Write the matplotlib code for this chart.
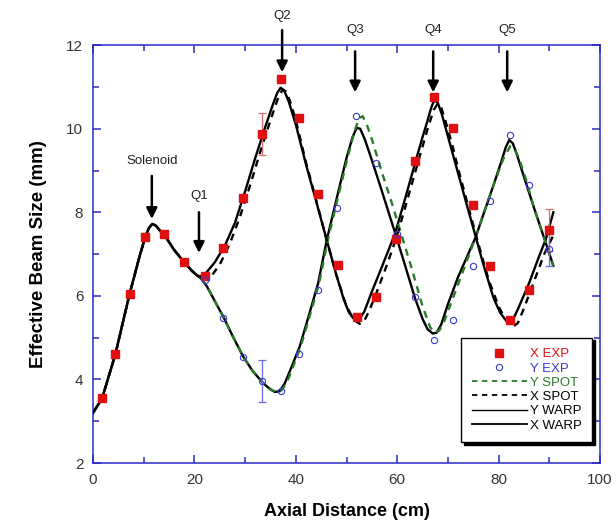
import matplotlib
matplotlib.use("Agg")
import matplotlib.pyplot as plt
from matplotlib.ticker import MultipleLocator
from matplotlib.lines import Line2D

plt.rcParams['font.family'] = ['Liberation Sans', 'DejaVu Sans']

# ---------------- data ----------------
# experimental points
x_exp_pos = [1.8, 4.3, 7.2, 10.3, 14.0, 18.0, 22.0, 25.7, 29.6, 33.3, 37.0, 40.7, 44.4,
             48.4, 52.0, 55.8, 59.8, 63.5, 67.2, 71.0, 74.9, 78.4, 82.2, 86.0, 89.9]
x_exp_val = [3.55, 4.60, 6.04, 7.40, 7.48, 6.81, 6.47, 7.14, 8.35, 9.88, 11.18, 10.26, 8.44,
             6.73, 5.50, 5.98, 7.36, 9.23, 10.76, 10.01, 8.18, 6.72, 5.43, 6.14, 7.57]
y_exp_pos = [22.0, 25.7, 29.6, 33.3, 37.0, 40.7, 44.4, 48.1, 51.9, 55.8, 59.9, 63.6, 67.2,
             71.0, 74.9, 78.4, 82.2, 86.0, 89.9]
y_exp_val = [6.38, 5.47, 4.54, 3.96, 3.72, 4.61, 6.14, 8.11, 10.30, 9.17, 7.48, 5.97, 4.95,
             5.42, 6.71, 8.28, 9.86, 8.66, 7.11]
# error bars: (position, value, half-width)
x_err_pos = [33.3, 89.9]
x_err_val = [9.88, 7.57]
x_err_size = [0.5, 0.5]
y_err_pos = [33.3, 89.9]
y_err_val = [3.96, 7.11]
y_err_size = [0.5, 0.4]

# common leading segment (solenoid region, identical for all simulations)
lead_x = [0.0, 1.8, 4.4, 7.2, 9.3, 10.3, 11.0, 11.7, 12.4, 13.3, 14.5, 16.0, 18.0, 19.5, 20.6]
lead_y = [3.2, 3.55, 4.6, 6.04, 7.0, 7.4, 7.62, 7.72, 7.68, 7.55, 7.38, 7.1, 6.8, 6.6, 6.48]

xwarp_x = [21.3, 22.3, 24.0, 26.0, 28.0, 30.0, 32.0, 34.0, 35.4, 36.3, 37.0, 37.7, 38.6, 40.0,
           42.0, 44.0, 46.0, 48.0, 49.5, 50.5, 51.3, 52.0, 52.7, 53.5, 55.0, 57.0, 59.6, 61.5,
           63.7, 65.0, 66.0, 66.7, 67.3, 68.0, 68.8, 70.0, 72.0, 74.0, 75.5, 77.0, 79.0, 80.3,
           81.2, 82.1, 82.9, 83.8, 86.0, 88.0, 89.3, 90.8]
xwarp_y = [6.47, 6.55, 6.8, 7.2, 7.75, 8.5, 9.3, 10.05, 10.55, 10.85, 10.98, 10.92, 10.65, 10.1,
           9.15, 8.27, 7.38, 6.5, 5.9, 5.6, 5.47, 5.42, 5.47, 5.62, 6.1, 6.7, 7.5, 8.3,
           9.25, 9.8, 10.2, 10.5, 10.68, 10.62, 10.35, 9.82, 8.94, 8.06, 7.41, 6.75, 5.95, 5.6,
           5.45, 5.4, 5.45, 5.68, 6.3, 6.95, 7.35, 8.0]

ywarp_x = [21.3, 22.5, 24.0, 25.7, 27.5, 29.6, 31.5, 33.5, 35.0, 35.9, 36.8, 37.8, 39.0, 40.8,
           42.5, 44.4, 46.1, 48.0, 50.0, 51.2, 52.0, 52.7, 53.6, 55.0, 57.0, 59.6, 61.5, 63.5,
           65.0, 66.0, 67.0, 67.8, 68.7, 70.0, 72.0, 74.0, 75.5, 77.0, 79.0, 80.5, 81.4, 82.1,
           82.8, 83.7, 85.0, 87.0, 89.3, 90.8]
ywarp_y = [6.42, 6.22, 5.88, 5.5, 5.05, 4.55, 4.2, 3.92, 3.76, 3.7, 3.72, 3.9, 4.25, 4.8,
           5.5, 6.3, 7.33, 8.3, 9.3, 9.8, 10.02, 10.0, 9.75, 9.25, 8.5, 7.5, 6.75, 5.95,
           5.45, 5.2, 5.1, 5.12, 5.32, 5.8, 6.45, 7.0, 7.41, 7.95, 8.65, 9.2, 9.55, 9.73,
           9.65, 9.35, 8.85, 8.1, 7.27, 6.72]

xspot_x = [21.3, 22.3, 23.5, 25.0, 27.0, 29.0, 31.0, 33.0, 35.0, 36.4, 37.3, 38.0, 38.8, 40.0,
           42.0, 44.0, 46.0, 48.0, 50.0, 51.5, 52.6, 53.5, 54.5, 56.0, 58.0, 60.0, 62.0, 64.0,
           66.0, 67.2, 68.0, 68.7, 69.5, 71.0, 72.0, 74.0, 76.0, 78.0, 80.0, 81.5, 82.8, 83.8,
           85.0, 87.0, 89.0, 90.8]
xspot_y = [6.45, 6.4, 6.5, 6.75, 7.25, 7.9, 8.65, 9.45, 10.2, 10.7, 10.92, 10.9, 10.68, 10.2,
           9.2, 8.3, 7.38, 6.5, 5.75, 5.42, 5.33, 5.4, 5.65, 6.1, 6.75, 7.45, 8.3, 9.15,
           10.0, 10.45, 10.6, 10.5, 10.2, 9.55, 9.05, 8.15, 7.25, 6.4, 5.75, 5.4, 5.26, 5.35,
           5.7, 6.35, 7.0, 7.45]

yspot_x = [21.3, 22.5, 24.0, 25.7, 27.5, 29.6, 31.5, 33.5, 35.2, 36.3, 37.2, 38.2, 39.3, 41.0,
           42.7, 44.6, 46.3, 48.2, 50.2, 51.6, 52.5, 53.2, 54.0, 55.0, 57.0, 59.0, 61.0, 63.0,
           65.0, 66.5, 67.4, 68.3, 69.3, 71.0, 73.0, 75.0, 77.0, 79.0, 81.0, 82.3, 83.0, 84.0,
           85.5, 87.0, 89.3, 90.8]
yspot_y = [6.42, 6.22, 5.88, 5.5, 5.05, 4.55, 4.2, 3.92, 3.75, 3.7, 3.74, 3.92, 4.25, 4.8,
           5.5, 6.3, 7.33, 8.3, 9.3, 9.95, 10.25, 10.3, 10.1, 9.75, 8.95, 8.2, 7.4, 6.6,
           5.75, 5.25, 5.12, 5.17, 5.4, 5.95, 6.6, 7.25, 7.95, 8.65, 9.3, 9.58, 9.55, 9.3,
           8.75, 8.1, 7.27, 6.72]

# annotations: label, x, text y, arrow tail y, arrow head y
annotations = [
    ("Solenoid", 11.6, 9.23, 8.87, 7.84),
    ("Q1", 20.9, 8.39, 8.00, 7.03),
    ("Q2", 37.3, 12.69, 12.36, 11.35),
    ("Q3", 51.7, 12.36, 11.85, 10.87),
    ("Q4", 67.1, 12.36, 11.85, 10.87),
    ("Q5", 81.7, 12.36, 11.85, 10.87),
]

# ---------------- figure ----------------
fig = plt.figure(figsize=(6.16, 5.31), dpi=100)
ax = fig.add_axes([0.151, 0.128, 0.823, 0.787])

axis_blue = '#2a2ac8'
red = '#e01010'
blue = '#3a3ad0'
green = '#2a7a2a'

lw = 1.7
ax.plot(lead_x + ywarp_x, lead_y + ywarp_y, color='black', lw=lw, zorder=3)
ax.plot(lead_x + xwarp_x, lead_y + xwarp_y, color='black', lw=lw, zorder=3)
ax.plot(lead_x + yspot_x, lead_y + yspot_y, color=green, lw=lw, ls=(0, (3, 2.5)), zorder=4)
ax.plot(lead_x + xspot_x, lead_y + xspot_y, color='black', lw=lw, ls=(0, (3, 2.5)), zorder=4)

ax.errorbar(x_err_pos, x_err_val, yerr=x_err_size, fmt='none', ecolor='#e06a6a',
            elinewidth=0.9, capsize=3, capthick=0.9, zorder=5)
ax.errorbar(y_err_pos, y_err_val, yerr=y_err_size, fmt='none', ecolor='#6a6ad8',
            elinewidth=0.9, capsize=3, capthick=0.9, zorder=5)
ax.plot(x_exp_pos, x_exp_val, ls='none', marker='s', ms=5.5, mfc=red, mec=red, zorder=6)
ax.plot(y_exp_pos, y_exp_val, ls='none', marker='o', ms=4.5, mfc='none', mec=blue,
        mew=0.8, zorder=6)

for label, xa, ty, tail, head in annotations:
    ax.annotate('', xy=(xa, head), xytext=(xa, tail),
                arrowprops=dict(arrowstyle='-|>', color='black', lw=1.8,
                                mutation_scale=16, shrinkA=0, shrinkB=0),
                annotation_clip=False, zorder=7)
    ax.text(xa, ty, label, ha='center', va='center', fontsize=9.5, color='#222222',
            clip_on=False)

ax.set_xlim(0, 100)
ax.set_ylim(2, 12)
ax.xaxis.set_major_locator(MultipleLocator(20))
ax.xaxis.set_minor_locator(MultipleLocator(10))
ax.yaxis.set_major_locator(MultipleLocator(2))
ax.yaxis.set_minor_locator(MultipleLocator(1))
for sp in ax.spines.values():
    sp.set_color(axis_blue)
    sp.set_linewidth(1.1)
ax.tick_params(which='both', direction='in', top=True, right=True, color=axis_blue,
               width=1.1, labelsize=11, labelcolor='#333333', pad=7)
ax.tick_params(which='major', length=6)
ax.tick_params(which='minor', length=4)

ax.set_xlabel('Axial Distance (cm)', fontsize=13, fontweight='bold', labelpad=12)
ax.set_ylabel('Effective Beam Size (mm)', fontsize=13.5, fontweight='bold', labelpad=14)

handles = [
    Line2D([], [], ls='none', marker='s', ms=5.5, mfc=red, mec=red),
    Line2D([], [], ls='none', marker='o', ms=4.5, mfc='none', mec=blue, mew=0.8),
    Line2D([], [], color=green, lw=1.3, ls=(0, (3, 2.5))),
    Line2D([], [], color='black', lw=1.3, ls=(0, (3, 2.5))),
    Line2D([], [], color='black', lw=1.0),
    Line2D([], [], color='black', lw=1.3),
]
labels = ['X EXP', 'Y EXP', 'Y SPOT', 'X SPOT', 'Y WARP', 'X WARP']
leg = ax.legend(handles, labels, loc='upper left', bbox_to_anchor=(0.726, 0.30),
                fontsize=9.5, handlelength=4.2, handletextpad=0.2, labelspacing=0.15,
                borderpad=0.8, borderaxespad=0, frameon=True, fancybox=False, framealpha=1,
                edgecolor='black', shadow={'color': 'black', 'alpha': 1})
leg.get_frame().set_linewidth(1.0)
text_colors = [red, blue, green, 'black', 'black', 'black']
for t, c in zip(leg.get_texts(), text_colors):
    t.set_color(c)
leg.set_zorder(10)

fig.savefig('out.png', dpi=100)
